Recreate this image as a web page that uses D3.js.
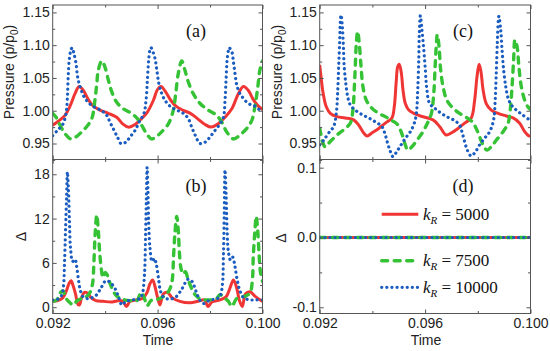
<!DOCTYPE html>
<html>
<head>
<meta charset="utf-8">
<script src="https://cdn.jsdelivr.net/npm/d3@7"></script>
<style>
  body { margin: 0; background: #fff; }
  svg { display: block; }
  .tick text { font-family: "Liberation Sans", Arial, sans-serif; font-size: 14px; fill: #222; }
</style>
</head>
<body>
<div id="chart"></div>
<script>
// tick values
const timeTicks = [0.092, 0.096, 0.100];
const timeMinor = [0.094, 0.098];
const pressureTicks = [0.95, 1.00, 1.05, 1.10, 1.15];
const pressureMinor = [0.925, 0.975, 1.025, 1.075, 1.125];
const deltaTicksB = [0, 6, 12, 18];
const deltaMinorB = [3, 9, 15];
const deltaTicksD = [-0.1, 0, 0.1];
const deltaMinorD = [-0.05, 0.05];
const kValues = ['5000', '7500', '10000'];

// (a) pressure, left column  [time, p/p0]
const aRed = [[0.09200,0.978],[0.09221,0.984],[0.09247,0.993],[0.09266,1.007],[0.09285,1.026],[0.09301,1.037],[0.09317,1.031],[0.09336,1.017],[0.09355,1.007],[0.09380,1.001],[0.09412,0.996],[0.09444,0.990],[0.09467,0.980],[0.09488,0.975],[0.09514,0.979],[0.09539,0.988],[0.09561,0.998],[0.09584,1.016],[0.09599,1.032],[0.09613,1.037],[0.09630,1.029],[0.09650,1.016],[0.09670,1.007],[0.09695,1.001],[0.09725,0.996],[0.09752,0.988],[0.09781,0.979],[0.09804,0.975],[0.09831,0.980],[0.09857,0.990],[0.09883,1.003],[0.09908,1.026],[0.09927,1.037],[0.09946,1.031],[0.09965,1.017],[0.09984,1.007],[0.10000,1.002]];
const aGreen = [[0.09200,0.996],[0.09213,0.990],[0.09228,0.978],[0.09247,0.965],[0.09269,0.957],[0.09292,0.961],[0.09311,0.968],[0.09330,0.976],[0.09349,0.988],[0.09361,1.016],[0.09368,1.041],[0.09374,1.062],[0.09387,1.076],[0.09399,1.067],[0.09412,1.047],[0.09425,1.029],[0.09444,1.013],[0.09469,1.003],[0.09501,0.996],[0.09523,0.988],[0.09539,0.978],[0.09558,0.965],[0.09577,0.957],[0.09603,0.963],[0.09616,0.968],[0.09641,0.980],[0.09660,1.001],[0.09669,1.026],[0.09679,1.057],[0.09692,1.076],[0.09704,1.062],[0.09717,1.044],[0.09736,1.026],[0.09762,1.011],[0.09793,1.001],[0.09825,0.993],[0.09844,0.983],[0.09863,0.968],[0.09889,0.957],[0.09914,0.963],[0.09940,0.973],[0.09959,0.985],[0.09971,1.006],[0.09982,1.036],[0.09990,1.062],[0.10000,1.076]];
const aBlue = [[0.09200,0.962],[0.09218,0.970],[0.09238,0.979],[0.09251,0.996],[0.09256,1.021],[0.09259,1.052],[0.09263,1.077],[0.09269,1.092],[0.09274,1.096],[0.09281,1.087],[0.09289,1.072],[0.09294,1.054],[0.09301,1.041],[0.09311,1.029],[0.09323,1.019],[0.09340,1.011],[0.09361,1.005],[0.09387,1.000],[0.09406,0.993],[0.09418,0.983],[0.09434,0.970],[0.09448,0.959],[0.09460,0.950],[0.09479,0.952],[0.09495,0.960],[0.09514,0.970],[0.09530,0.983],[0.09548,0.996],[0.09556,1.016],[0.09561,1.047],[0.09566,1.077],[0.09571,1.093],[0.09575,1.096],[0.09582,1.090],[0.09590,1.080],[0.09597,1.062],[0.09605,1.041],[0.09616,1.026],[0.09628,1.016],[0.09647,1.007],[0.09673,1.001],[0.09698,0.996],[0.09717,0.988],[0.09730,0.975],[0.09743,0.963],[0.09762,0.950],[0.09781,0.952],[0.09800,0.960],[0.09819,0.970],[0.09838,0.980],[0.09851,0.990],[0.09857,1.016],[0.09861,1.047],[0.09865,1.077],[0.09870,1.092],[0.09873,1.096],[0.09883,1.090],[0.09889,1.075],[0.09895,1.057],[0.09902,1.039],[0.09914,1.026],[0.09927,1.019],[0.09946,1.011],[0.09971,1.007],[0.09990,1.001],[0.10000,0.998]];

// (b) delta, left column
const bRed = [[0.09200,0.8],[0.09220,0.9],[0.09239,1.3],[0.09253,2.3],[0.09262,3.2],[0.09270,3.6],[0.09277,3.0],[0.09287,1.8],[0.09296,0.4],[0.09302,0.3],[0.09310,1.3],[0.09321,2.0],[0.09333,1.9],[0.09346,1.3],[0.09365,0.9],[0.09392,0.8],[0.09426,0.7],[0.09453,0.9],[0.09468,0.8],[0.09481,0.1],[0.09495,0.8],[0.09521,1.0],[0.09544,1.2],[0.09560,2.0],[0.09571,3.2],[0.09581,3.7],[0.09590,2.8],[0.09600,1.3],[0.09609,0.3],[0.09622,1.8],[0.09638,2.0],[0.09655,1.3],[0.09685,0.8],[0.09724,0.6],[0.09754,0.8],[0.09779,1.0],[0.09792,0.1],[0.09807,0.7],[0.09838,1.0],[0.09861,1.4],[0.09876,2.6],[0.09889,3.7],[0.09901,2.7],[0.09912,0.9],[0.09923,0.1],[0.09935,1.8],[0.09952,2.1],[0.09971,1.5],[0.09990,1.0],[0.10000,0.8]];
const bGreen = [[0.09200,0.8],[0.09216,1.0],[0.09230,2.0],[0.09239,2.2],[0.09251,1.2],[0.09266,0.6],[0.09279,0.3],[0.09293,0.9],[0.09312,1.2],[0.09331,1.5],[0.09342,2.0],[0.09352,3.2],[0.09357,6.0],[0.09362,10.0],[0.09368,12.5],[0.09374,10.3],[0.09379,7.5],[0.09386,5.0],[0.09392,4.0],[0.09401,4.7],[0.09409,4.3],[0.09418,3.3],[0.09432,2.1],[0.09445,1.5],[0.09464,1.1],[0.09495,0.9],[0.09521,0.9],[0.09537,2.0],[0.09548,1.4],[0.09560,0.2],[0.09575,0.9],[0.09602,1.1],[0.09624,1.5],[0.09643,2.2],[0.09655,3.5],[0.09661,7.0],[0.09666,10.0],[0.09673,12.3],[0.09679,10.3],[0.09683,7.5],[0.09689,5.3],[0.09697,4.5],[0.09706,4.8],[0.09716,3.8],[0.09729,2.6],[0.09743,1.7],[0.09765,1.1],[0.09800,1.0],[0.09823,1.1],[0.09838,1.7],[0.09853,1.3],[0.09870,0.8],[0.09883,0.1],[0.09902,1.2],[0.09933,1.5],[0.09952,1.9],[0.09961,3.5],[0.09965,7.0],[0.09971,10.3],[0.09976,12.3],[0.09982,10.3],[0.09987,7.1],[0.09992,4.8],[0.10000,3.5]];
const bBlue = [[0.09200,1.0],[0.09220,1.1],[0.09234,1.6],[0.09241,2.8],[0.09245,6.0],[0.09249,10.5],[0.09253,15.0],[0.09256,18.3],[0.09260,16.0],[0.09264,11.5],[0.09268,8.0],[0.09276,6.2],[0.09285,6.5],[0.09291,5.6],[0.09298,3.8],[0.09306,2.2],[0.09319,1.3],[0.09342,1.2],[0.09365,1.6],[0.09384,2.6],[0.09403,3.6],[0.09418,3.4],[0.09438,2.5],[0.09453,1.2],[0.09464,0.3],[0.09479,0.8],[0.09506,1.0],[0.09533,1.2],[0.09542,1.8],[0.09550,4.5],[0.09554,9.5],[0.09557,14.5],[0.09560,18.9],[0.09563,16.0],[0.09566,11.5],[0.09571,8.0],[0.09579,6.2],[0.09588,6.6],[0.09595,5.8],[0.09603,4.0],[0.09611,2.2],[0.09624,1.3],[0.09647,1.1],[0.09670,1.4],[0.09693,2.5],[0.09716,3.8],[0.09731,3.5],[0.09746,2.2],[0.09762,0.9],[0.09777,0.5],[0.09800,1.0],[0.09823,1.1],[0.09838,1.5],[0.09847,3.0],[0.09851,7.0],[0.09854,12.5],[0.09857,18.6],[0.09861,15.5],[0.09865,10.5],[0.09870,7.5],[0.09878,6.4],[0.09886,6.8],[0.09895,5.5],[0.09903,3.8],[0.09914,2.2],[0.09928,1.3],[0.09952,1.0],[0.09975,1.0],[0.10000,1.0]];

// (c) pressure, right column
const cRed = [[0.09200,1.070],[0.09205,1.052],[0.09213,1.027],[0.09225,1.006],[0.09240,0.996],[0.09266,0.991],[0.09297,0.989],[0.09329,0.986],[0.09348,0.978],[0.09367,0.966],[0.09380,0.9615],[0.09398,0.966],[0.09424,0.973],[0.09449,0.981],[0.09474,0.989],[0.09483,1.006],[0.09490,1.042],[0.09496,1.067],[0.09502,1.071],[0.09510,1.057],[0.09516,1.032],[0.09525,1.011],[0.09538,1.001],[0.09557,0.996],[0.09582,0.992],[0.09630,0.986],[0.09655,0.976],[0.09680,0.963],[0.09699,0.966],[0.09725,0.973],[0.09750,0.981],[0.09775,0.989],[0.09788,1.016],[0.09797,1.052],[0.09805,1.071],[0.09812,1.060],[0.09820,1.032],[0.09832,1.011],[0.09851,1.001],[0.09877,0.996],[0.09908,0.992],[0.09934,0.989],[0.09959,0.981],[0.09978,0.968],[0.09994,0.9615],[0.10000,0.9615]];
const cGreen = [[0.09200,0.973],[0.09205,0.963],[0.09213,0.950],[0.09221,0.945],[0.09240,0.953],[0.09266,0.963],[0.09291,0.971],[0.09316,0.981],[0.09326,1.001],[0.09331,1.032],[0.09335,1.067],[0.09339,1.103],[0.09344,1.121],[0.09350,1.103],[0.09357,1.067],[0.09364,1.037],[0.09377,1.016],[0.09398,1.004],[0.09424,0.996],[0.09449,0.991],[0.09474,0.985],[0.09493,0.980],[0.09506,0.971],[0.09516,0.960],[0.09525,0.948],[0.09534,0.940],[0.09550,0.945],[0.09569,0.955],[0.09592,0.968],[0.09611,0.983],[0.09624,0.996],[0.09633,1.027],[0.09638,1.067],[0.09643,1.103],[0.09646,1.116],[0.09653,1.098],[0.09658,1.067],[0.09668,1.037],[0.09683,1.016],[0.09706,1.004],[0.09731,0.996],[0.09756,0.990],[0.09779,0.983],[0.09794,0.973],[0.09807,0.960],[0.09820,0.948],[0.09835,0.940],[0.09851,0.945],[0.09870,0.955],[0.09896,0.968],[0.09915,0.981],[0.09923,1.001],[0.09930,1.037],[0.09936,1.078],[0.09941,1.108],[0.09949,1.098],[0.09956,1.067],[0.09965,1.037],[0.09978,1.016],[0.09990,1.006],[0.10000,1.002]];
const cBlue = [[0.09200,0.948],[0.09215,0.955],[0.09234,0.966],[0.09253,0.976],[0.09263,0.996],[0.09268,1.027],[0.09272,1.067],[0.09276,1.108],[0.09278,1.134],[0.09281,1.146],[0.09286,1.128],[0.09290,1.098],[0.09293,1.067],[0.09299,1.042],[0.09306,1.022],[0.09316,1.009],[0.09335,1.001],[0.09361,0.994],[0.09386,0.989],[0.09411,0.983],[0.09436,0.976],[0.09449,0.963],[0.09458,0.950],[0.09468,0.938],[0.09478,0.930],[0.09493,0.938],[0.09509,0.948],[0.09525,0.958],[0.09544,0.968],[0.09559,0.981],[0.09567,0.996],[0.09572,1.032],[0.09576,1.078],[0.09578,1.118],[0.09582,1.145],[0.09588,1.123],[0.09595,1.093],[0.09601,1.062],[0.09606,1.035],[0.09617,1.011],[0.09636,1.004],[0.09661,0.996],[0.09687,0.990],[0.09712,0.985],[0.09731,0.978],[0.09741,0.966],[0.09750,0.953],[0.09760,0.940],[0.09775,0.931],[0.09792,0.938],[0.09807,0.948],[0.09826,0.958],[0.09845,0.968],[0.09860,0.986],[0.09866,1.016],[0.09870,1.057],[0.09874,1.103],[0.09878,1.139],[0.09880,1.144],[0.09887,1.123],[0.09892,1.093],[0.09898,1.062],[0.09906,1.037],[0.09915,1.019],[0.09927,1.009],[0.09946,1.001],[0.09972,0.993],[0.10000,0.985]];

// (d) delta, right column: all three are zero
const dRed = [[0.092, 0], [0.100, 0]];
const dGreen = [[0.092, 0], [0.100, 0]];
const dBlue = [[0.092, 0], [0.100, 0]];

const styles = {
  red:   { stroke: '#f03535', width: 3,   dash: null,     cap: 'butt' },
  green: { stroke: '#35c235', width: 3.4, dash: '6 6.5',  cap: 'round' },
  blue:  { stroke: '#1a5cbf', width: 3.2, dash: '0.1 5',  cap: 'round' },
};
const gray = '#555';
const serif = '"Liberation Serif", "Times New Roman", serif';
const sans = '"Liberation Sans", Arial, sans-serif';

const svg = d3.select('#chart').append('svg').attr('width', 550).attr('height', 351);

const leftX = d3.scaleLinear().domain([0.092, 0.100]).range([52.7, 262.5]);
const rightX = d3.scaleLinear().domain([0.092, 0.100]).range([319.7, 530.5]);
const pY = d3.scaleLinear().domain([0.9256, 1.1613]).range([159.5, 5]);
const bY = d3.scaleLinear().domain([-0.85, 20]).range([313.5, 159.5]);
const dY = d3.scaleLinear().domain([-0.1089, 0.1117]).range([313.5, 159.5]);

let clipId = 0;

function tickRow(g, axis, tr, values, size, fmt, pad) {
  const a = g.append('g').attr('transform', tr)
    .call(axis.tickValues(values).tickSize(-size).tickSizeOuter(0)
      .tickPadding(pad || 3).tickFormat(fmt || (() => '')));
  a.select('.domain').remove();
  a.selectAll('.tick line').attr('stroke', gray);
  return a;
}

function panel(o) {
  const x = o.x, y = o.y;
  const [x0, x1] = x.range();
  const [y0, y1] = y.range();
  const g = svg.append('g');

  const id = 'clip' + (clipId++);
  g.append('clipPath').attr('id', id)
    .append('rect').attr('x', x0).attr('y', y1).attr('width', x1 - x0).attr('height', y0 - y1);

  const line = d3.line()
    .x(d => x(d[0]))
    .y(d => y(d[1]))
    .curve(d3.curveCatmullRom.alpha(0.5));

  o.series.forEach(s => {
    const st = styles[s.style];
    g.append('path')
      .datum(s.data)
      .attr('clip-path', `url(#${id})`)
      .attr('d', line)
      .attr('fill', 'none')
      .attr('stroke', st.stroke)
      .attr('stroke-width', st.width)
      .attr('stroke-dasharray', st.dash)
      .attr('stroke-linecap', st.cap)
      .attr('stroke-linejoin', 'round');
  });

  // ticks on all four sides, pointing inward
  tickRow(g, d3.axisLeft(y), `translate(${x0},0)`, o.yTicks, 4, o.yFmt);
  tickRow(g, d3.axisLeft(y), `translate(${x0},0)`, o.yMinor, 2.5);
  tickRow(g, d3.axisRight(y), `translate(${x1},0)`, o.yTicks, 4);
  tickRow(g, d3.axisRight(y), `translate(${x1},0)`, o.yMinor, 2.5);
  tickRow(g, d3.axisBottom(x), `translate(0,${y0})`, timeTicks, 4,
    o.xLabels ? (d => d.toFixed(3)) : null, 5);
  tickRow(g, d3.axisBottom(x), `translate(0,${y0})`, timeMinor, 2.5);
  tickRow(g, d3.axisTop(x), `translate(0,${y1})`, timeTicks, 4);
  tickRow(g, d3.axisTop(x), `translate(0,${y1})`, timeMinor, 2.5);

  g.append('rect')
    .attr('x', x0).attr('y', y1).attr('width', x1 - x0).attr('height', y0 - y1)
    .attr('fill', 'none').attr('stroke', gray).attr('stroke-width', 1);

  g.append('text')
    .attr('x', o.tag[1]).attr('y', o.tag[2])
    .attr('text-anchor', 'middle')
    .attr('font-family', serif).attr('font-size', 18).attr('fill', '#111')
    .text(o.tag[0]);
  return g;
}

const fmt2 = d => d.toFixed(2);

panel({ x: leftX, y: pY, yTicks: pressureTicks, yMinor: pressureMinor, yFmt: fmt2,
  series: [{ data: aRed, style: 'red' }, { data: aGreen, style: 'green' }, { data: aBlue, style: 'blue' }],
  tag: ['(a)', 196, 37] });
panel({ x: leftX, y: bY, yTicks: deltaTicksB, yMinor: deltaMinorB, yFmt: d => String(d), xLabels: true,
  series: [{ data: bRed, style: 'red' }, { data: bGreen, style: 'green' }, { data: bBlue, style: 'blue' }],
  tag: ['(b)', 196, 192] });
panel({ x: rightX, y: pY, yTicks: pressureTicks, yMinor: pressureMinor, yFmt: fmt2,
  series: [{ data: cRed, style: 'red' }, { data: cGreen, style: 'green' }, { data: cBlue, style: 'blue' }],
  tag: ['(c)', 463, 37] });
const pd = panel({ x: rightX, y: dY, yTicks: deltaTicksD, yMinor: deltaMinorD, yFmt: d => d.toFixed(1), xLabels: true,
  series: [{ data: dRed, style: 'red' }, { data: dGreen, style: 'green' }, { data: dBlue, style: 'blue' }],
  tag: ['(d)', 463, 192] });

// legend in (d)
const legendRows = [
  { style: 'red', y: 214.3 },
  { style: 'green', y: 260.7 },
  { style: 'blue', y: 287.3 },
];
legendRows.forEach((r, i) => {
  const st = styles[r.style];
  pd.append('line')
    .attr('x1', 381.7).attr('x2', 418.3).attr('y1', r.y).attr('y2', r.y)
    .attr('stroke', st.stroke).attr('stroke-width', st.width)
    .attr('stroke-dasharray', st.dash).attr('stroke-linecap', st.cap);
  const t = pd.append('text')
    .attr('x', 423).attr('y', r.y + 5.3)
    .attr('font-family', serif).attr('font-size', 17).attr('fill', '#111')
    .style('white-space', 'pre');
  t.append('tspan').attr('font-style', 'italic').text('k');
  t.append('tspan').attr('font-style', 'italic').attr('font-size', 11).attr('dy', 4).text('R');
  t.append('tspan').attr('dy', -4).text(' = ' + kValues[i]);
});

// axis titles
function yTitle(x, y, parts) {
  const t = svg.append('text')
    .attr('transform', `translate(${x},${y}) rotate(-90)`)
    .attr('text-anchor', 'middle')
    .attr('font-family', sans).attr('font-size', 14).attr('fill', '#222');
  parts(t);
}
const pressureTitle = t => {
  t.append('tspan').text('Pressure (p/p');
  t.append('tspan').attr('font-size', 10).attr('dy', 4).text('0');
  t.append('tspan').attr('dy', -4).text(')');
};
yTitle(13.5, 72, pressureTitle);
yTitle(281.5, 72, pressureTitle);
yTitle(25.5, 236.5, t => t.text('\u0394'));
yTitle(286, 238, t => t.text('\u0394'));

[[158, 'Time'], [426, 'Time']].forEach(([x, s]) => {
  svg.append('text')
    .attr('x', x).attr('y', 345)
    .attr('text-anchor', 'middle')
    .attr('font-family', sans).attr('font-size', 14).attr('fill', '#222')
    .text(s);
});
</script>
</body>
</html>
